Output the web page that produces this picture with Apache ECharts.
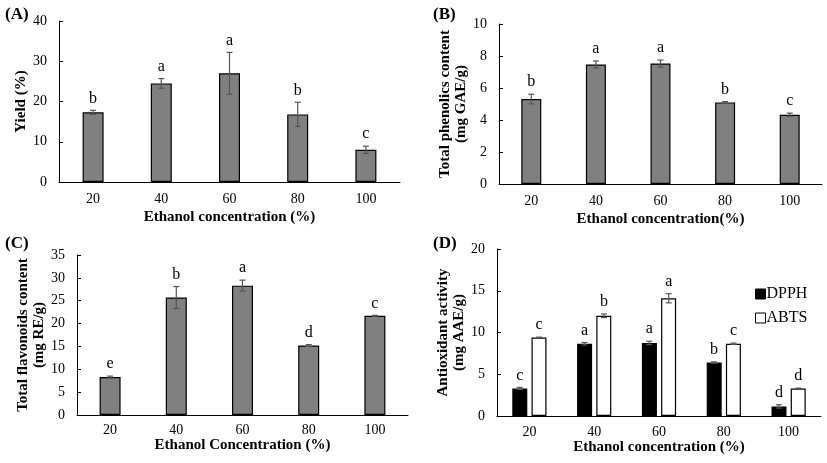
<!DOCTYPE html>
<html><head><meta charset="utf-8">
<script src="https://cdn.jsdelivr.net/npm/echarts@6/dist/echarts.min.js"></script>
<style>html,body{margin:0;padding:0;background:#fff}#c{width:827px;height:463px}</style>
</head><body><div id="c"></div>
<script>
var categories = ['20','40','60','80','100'];
// (A) Yield
var yieldVals = [17.3, 24.5, 27.0, 16.8, 8.0];
var yieldErr = [0.5, 1.2, 5.2, 3.0, 0.9];
var yieldLetters = ['b','a','a','b','c'];
// (B) Total phenolics
var tpcVals = [5.31, 7.47, 7.53, 5.10, 4.33];
var tpcErr = [0.3, 0.22, 0.22, 0.05, 0.1];
var tpcLetters = ['b','a','a','b','c'];
// (C) Total flavonoids
var tfcVals = [8.3, 25.7, 28.3, 15.2, 21.7];
var tfcErr = [0.2, 2.4, 1.2, 0.2, 0.1];
var tfcLetters = ['e','b','a','d','c'];
// (D) Antioxidant activity
var dpphVals = [3.3, 8.65, 8.75, 6.4, 1.15];
var dpphErr = [0.12, 0.15, 0.2, 0.08, 0.2];
var dpphLetters = ['c','a','a','b','d'];
var abtsVals = [9.4, 12.0, 14.1, 8.65, 3.3];
var abtsErr = [0.04, 0.22, 0.55, 0.08, 0.04];
var abtsLetters = ['c','b','a','c','d'];

var FONT = 'Liberation Serif';
var chart = echarts.init(document.getElementById('c'));

function xAx(gi, name, gap, margin) {
  return {type:'category', gridIndex:gi, data:categories, name:name, nameLocation:'middle', nameGap:gap,
    nameTextStyle:{fontFamily:FONT, fontWeight:'bold', fontSize:15, color:'#000'},
    axisLine:{lineStyle:{color:'#000', width:1}}, axisTick:{show:false},
    axisLabel:{fontFamily:FONT, fontSize:14, color:'#000', margin:margin}};
}
function yAx(gi, name, max, interval, gap) {
  return {type:'value', gridIndex:gi, min:0, max:max, interval:interval, name:name, nameLocation:'middle', nameGap:gap,
    nameTextStyle:{fontFamily:FONT, fontWeight:'bold', fontSize:15, color:'#000', lineHeight:16},
    axisLine:{show:true, lineStyle:{color:'#000', width:1}}, axisTick:{show:true, inside:true, length:4, lineStyle:{color:'#000'}},
    splitLine:{show:false},
    axisLabel:{fontFamily:FONT, fontSize:14, color:'#000', margin:12}};
}
function barSeries(gi, vals, color, width, name) {
  return {type:'bar', name:name, xAxisIndex:gi, yAxisIndex:gi, data:vals, barWidth:width, barGap:'28%',
    itemStyle:{color:color, borderColor:'#000', borderWidth:1.2}, z:2};
}
function errSeries(gi, vals, errs, letters, barIdx, nBars) {
  return {type:'custom', xAxisIndex:gi, yAxisIndex:gi, z:5, silent:true,
    data: vals.map(function(v,i){return [i, v, errs[i]];}),
    renderItem: function(params, api) {
      var i = api.value(0), v = api.value(1), e = api.value(2);
      var letter = letters[i];
      var base = api.coord([i, v]);
      var bw = api.size([1, 0])[0];
      var cx = base[0];
      if (nBars === 2) {
        var off = bw * 0.15;
        cx = base[0] + (barIdx === 0 ? -off : off);
      }
      var top = api.coord([i, v + e]);
      var bot = api.coord([i, v - e]);
      var cap = 3;
      var st = {stroke:'#555', lineWidth:1.2};
      return {type:'group', children:[
        {type:'line', shape:{x1:cx, y1:top[1], x2:cx, y2:bot[1]}, style:st},
        {type:'line', shape:{x1:cx-cap, y1:top[1], x2:cx+cap, y2:top[1]}, style:st},
        {type:'line', shape:{x1:cx-cap, y1:bot[1], x2:cx+cap, y2:bot[1]}, style:st},
        {type:'text', style:{text:letter, x:cx, y:top[1]-4, textAlign:'center', textVerticalAlign:'bottom',
          font:'16px "Liberation Serif"', fill:'#000'}}
      ]};
    }};
}

var option = {
  animation:false,
  backgroundColor:'#fff',
  textStyle:{fontFamily:FONT},
  title:[
    {text:'(A)', left:0, top:1, textStyle:{fontFamily:FONT, fontWeight:'bold', fontSize:17, color:'#000'}},
    {text:'(B)', left:428, top:1, textStyle:{fontFamily:FONT, fontWeight:'bold', fontSize:17, color:'#000'}},
    {text:'(C)', left:0, top:230, textStyle:{fontFamily:FONT, fontWeight:'bold', fontSize:17, color:'#000'}},
    {text:'(D)', left:428, top:230, textStyle:{fontFamily:FONT, fontWeight:'bold', fontSize:17, color:'#000'}}
  ],
  legend:{orient:'vertical', left:750, top:281, itemWidth:10, itemHeight:10, itemGap:8,
    icon:'rect', textStyle:{fontFamily:FONT, fontSize:16, color:'#000', padding:[0,0,0,-4]},
    data:[{name:'DPPH', itemStyle:{color:'#000', borderColor:'#000', borderWidth:1}},{name:'ABTS', itemStyle:{color:'#fff', borderColor:'#000', borderWidth:1}}]},
  grid:[
    {left:59, top:21, width:341, height:161},
    {left:499, top:24, width:323, height:160},
    {left:77, top:255, width:331, height:160},
    {left:497, top:249, width:324, height:167}
  ],
  xAxis:[
    xAx(0,'Ethanol concentration (%)',28,10),
    xAx(1,'Ethanol concentration(%)',28,10),
    xAx(2,'Ethanol Concentration (%)',21,8),
    xAx(3,'Ethanol concentration (%)',20,9)
  ],
  yAxis:[
    yAx(0,'Yield (%)',40,10,30),
    yAx(1,'Total phenolics content\n(mg GAE/g)',10,2,23),
    yAx(2,'Total flavonoids content\n(mg RE/g)',35,5,26),
    yAx(3,'Antioxidant activity\n(mg AAE/g)',20,5,27)
  ],
  series:[
    barSeries(0, yieldVals, '#808080', 21),
    errSeries(0, yieldVals, yieldErr, yieldLetters, 0, 1),
    barSeries(1, tpcVals, '#808080', 20),
    errSeries(1, tpcVals, tpcErr, tpcLetters, 0, 1),
    barSeries(2, tfcVals, '#808080', 21),
    errSeries(2, tfcVals, tfcErr, tfcLetters, 0, 1),
    barSeries(3, dpphVals, '#000', 15, 'DPPH'),
    barSeries(3, abtsVals, '#fff', 15, 'ABTS'),
    errSeries(3, dpphVals, dpphErr, dpphLetters, 0, 2),
    errSeries(3, abtsVals, abtsErr, abtsLetters, 1, 2)
  ]
};
chart.setOption(option);
</script></body></html>
